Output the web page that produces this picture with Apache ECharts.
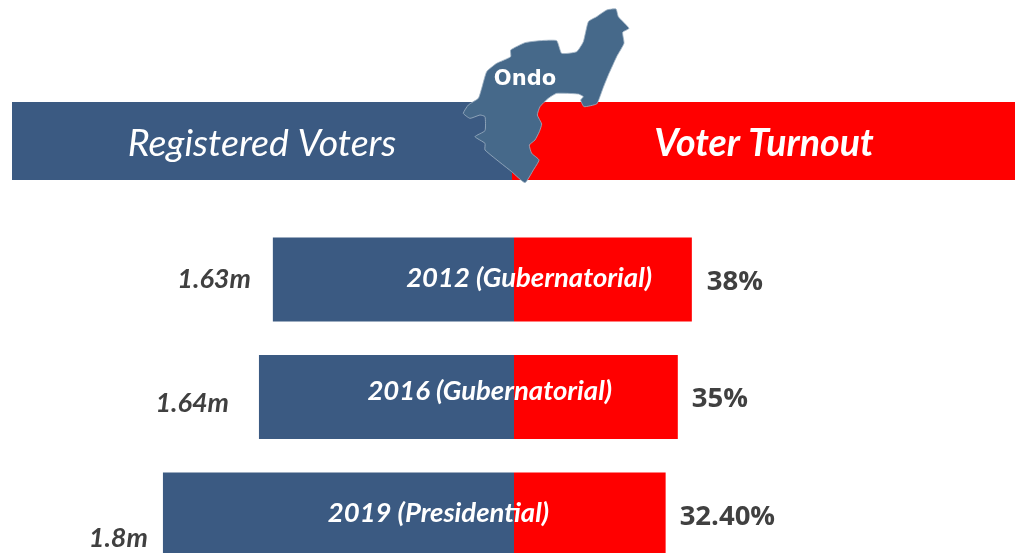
<!DOCTYPE html>
<html>
<head>
<meta charset="utf-8">
<style>html,body{margin:0;padding:0;background:#fff;overflow:hidden}#c{width:1019px;height:553px}</style>
<script src="https://cdn.jsdelivr.net/npm/echarts@6/dist/echarts.min.js"></script>
</head>
<body>
<div id="c"></div>
<script>
const categories = ['2012 (Gubernatorial)', '2016 (Gubernatorial)', '2019 (Presidential)'];
const registeredLabels = ['1.63m', '1.64m', '1.8m'];
// Lengths of the blue bars as drawn in the picture (the source graphic is not to scale with its labels).
const registeredBarLengths = [1.63, 1.724, 2.373];
const turnoutPercent = [38, 35, 32.4];
const turnoutLabels = ['38%', '35%', '32.40%'];

const BLUE = '#3b5a82', RED = '#ff0000', INK = '#404040';
const regOffsets = [[-17, 0], [-25, 6], [-10, 24]];
const turnOffsets = [[10, 3], [9, 2], [9, 3]];
const catOffsets = [[143, -1], [103, -6], [40, -1]];

// Ondo state outline (decorative)
const ondo = [[500,30],[528,27],[535,50],[567,85],[548,97],[552,130],[530,170],[505,225],[490,262],[478,295],[470,312],[432,320],[422,300],[430,290],[415,282],[350,280],[325,295],[300,320],[292,345],[305,372],[298,395],[285,420],[268,435],[275,460],[297,480],[280,510],[255,548],[215,515],[135,450],[135,430],[105,410],[135,392],[135,350],[120,345],[90,355],[70,340],[85,315],[115,295],[125,265],[140,215],[170,190],[212,170],[212,150],[255,128],[300,122],[350,122],[365,160],[410,155],[430,125],[445,65],[470,50]]
  .map(p => [440 + p[0] / 3, p[1] / 3]);

const chart = echarts.init(document.getElementById('c'));
const hiddenCat = i => ({
  type: 'category', gridIndex: i, data: categories, inverse: true, show: false, boundaryGap: false
});
chart.setOption({
  animation: false,
  backgroundColor: '#fff',
  grid: [
    { left: 11, width: 503, top: 279.5, height: 235 },
    { left: 514, width: 468, top: 279.5, height: 235 }
  ],
  xAxis: [
    { type: 'value', gridIndex: 0, min: 0, max: 3.4, inverse: true, show: false },
    { type: 'value', gridIndex: 1, min: 0, max: 100, show: false }
  ],
  yAxis: [hiddenCat(0), hiddenCat(1)],
  series: [
    {
      type: 'bar', name: 'Registered Voters', xAxisIndex: 0, yAxisIndex: 0, barWidth: 84, z: 2, clip: false,
      itemStyle: { color: BLUE },
      data: registeredBarLengths.map((v, i) => ({
        value: v,
        label: {
          show: true, position: 'left', offset: regOffsets[i], formatter: registeredLabels[i],
          fontFamily: 'Lato', fontStyle: 'italic', fontWeight: 'bold', fontSize: 27, color: INK
        }
      }))
    },
    {
      type: 'bar', name: 'Voter Turnout', xAxisIndex: 1, yAxisIndex: 1, barWidth: 84, z: 3, clip: false,
      itemStyle: { color: RED },
      data: turnoutPercent.map((v, i) => ({
        value: v,
        label: {
          show: true, position: 'right', offset: turnOffsets[i], formatter: turnoutLabels[i],
          fontFamily: 'Open Sans', fontWeight: 'bold', fontSize: 27.5, color: INK
        }
      }))
    },
    {
      type: 'bar', name: 'Election', xAxisIndex: 0, yAxisIndex: 0, barWidth: 84, barGap: '-100%', z: 10, clip: false,
      itemStyle: { color: 'rgba(0,0,0,0)' },
      data: registeredBarLengths.map((v, i) => ({
        value: v,
        label: {
          show: true, position: 'insideRight', offset: catOffsets[i], formatter: categories[i],
          fontFamily: 'Lato', fontStyle: 'italic', fontWeight: 'bold', fontSize: 27.5, color: '#fff'
        }
      }))
    }
  ],
  graphic: [
    { type: 'rect', z: 1, shape: { x: 12, y: 102, width: 500, height: 78 }, style: { fill: BLUE } },
    { type: 'rect', z: 1, shape: { x: 512, y: 102, width: 503, height: 78 }, style: { fill: RED } },
    { type: 'text', z: 5, x: 262, y: 144, style: { text: 'Registered Voters', fill: '#fff', font: 'italic 37.5px Lato', textAlign: 'center', textVerticalAlign: 'middle' } },
    { type: 'text', z: 5, x: 764, y: 144, style: { text: 'Voter Turnout', fill: '#fff', font: 'italic bold 37.5px Lato', textAlign: 'center', textVerticalAlign: 'middle' } },
    { type: 'polygon', z: 6, shape: { points: ondo, smooth: 0.15 }, style: { fill: '#46698a', stroke: '#9fb2c4', lineWidth: 0.8 } },
    { type: 'text', z: 7, x: 525, y: 80, style: { text: 'Ondo', fill: '#fff', font: 'bold 21px "DejaVu Sans"', textAlign: 'center', textVerticalAlign: 'middle' } }
  ]
});
</script>
</body>
</html>
